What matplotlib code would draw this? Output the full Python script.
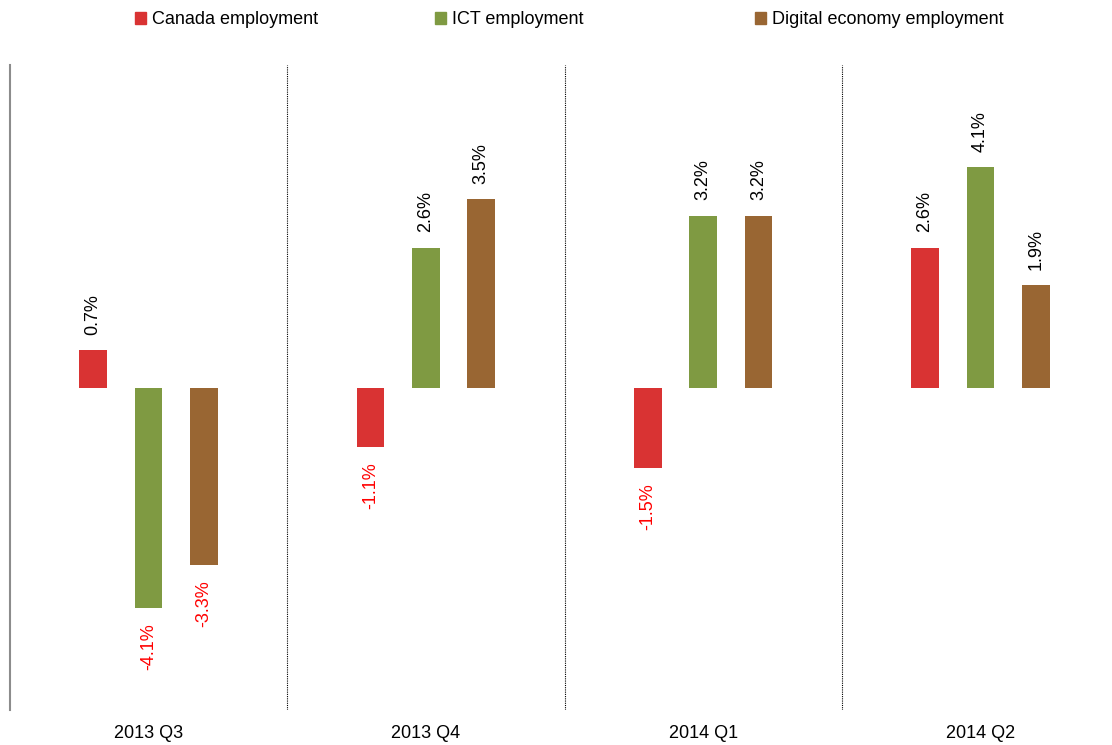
import matplotlib
matplotlib.use("Agg")
import matplotlib.pyplot as plt
from matplotlib.patches import Patch
import numpy as np

# Quarterly employment growth, percent
quarters = ["2013 Q3", "2013 Q4", "2014 Q1", "2014 Q2"]
series_names = ["Canada employment", "ICT employment", "Digital economy employment"]
canada = [0.7, -1.1, -1.5, 2.6]
ict = [-4.1, 2.6, 3.2, 4.1]
digital = [-3.3, 3.5, 3.2, 1.9]

colors = ["#D93333", "#7F9A42", "#996633"]

plt.rcParams["font.family"] = ["Liberation Sans", "DejaVu Sans"]

W, H = 1112, 745
fig = plt.figure(figsize=(W / 100, H / 100), dpi=100)
ax = fig.add_axes([10 / W, 35 / H, 1109 / W, 645 / H])

x = np.arange(len(quarters))
offsets = [-0.2, 0.0, 0.2]
width = 0.1

for vals, off, col, name in zip([canada, ict, digital], offsets, colors, series_names):
    bars = ax.bar(x + off, vals, width, color=col, label=name, zorder=2)
    for b, v in zip(bars, vals):
        cx = b.get_x() + b.get_width() / 2
        if v >= 0:
            ax.annotate(f"{v:.1f}%", (cx, v), xytext=(0, 11), textcoords="offset points",
                        rotation=90, ha="center", va="bottom", fontsize=13, color="black")
        else:
            ax.annotate(f"{v:.1f}%", (cx, v), xytext=(0, -11), textcoords="offset points",
                        rotation=90, ha="center", va="top", fontsize=13, color="#FF0000")

# dotted separators between quarters
for sep in x[:-1] + 0.5:
    ax.axvline(sep, color="black", linestyle=(0, (1, 1)), linewidth=0.8)

ax.set_xlim(-0.5, len(quarters) - 0.5)
ax.set_ylim(-6, 6)
ax.set_xticks(x)
ax.set_xticklabels(quarters, fontsize=13)
ax.tick_params(axis="x", length=0, pad=11)
ax.set_yticks([])
for side in ["top", "right", "bottom"]:
    ax.spines[side].set_visible(False)
ax.spines["left"].set_color("#8C8C8C")
ax.spines["left"].set_linewidth(1.5)

# legend entries laid out one by one along the top
legend_x = [135, 435, 755]
for lx, col, name in zip(legend_x, colors, series_names):
    fig.legend(handles=[Patch(color=col, label=name)], loc="center left",
               bbox_to_anchor=(lx / W, 1 - 20 / H), frameon=False, fontsize=13,
               handlelength=0.6, handleheight=0.6, handletextpad=0.35,
               borderpad=0, borderaxespad=0)

fig.savefig("out.png", dpi=100)
